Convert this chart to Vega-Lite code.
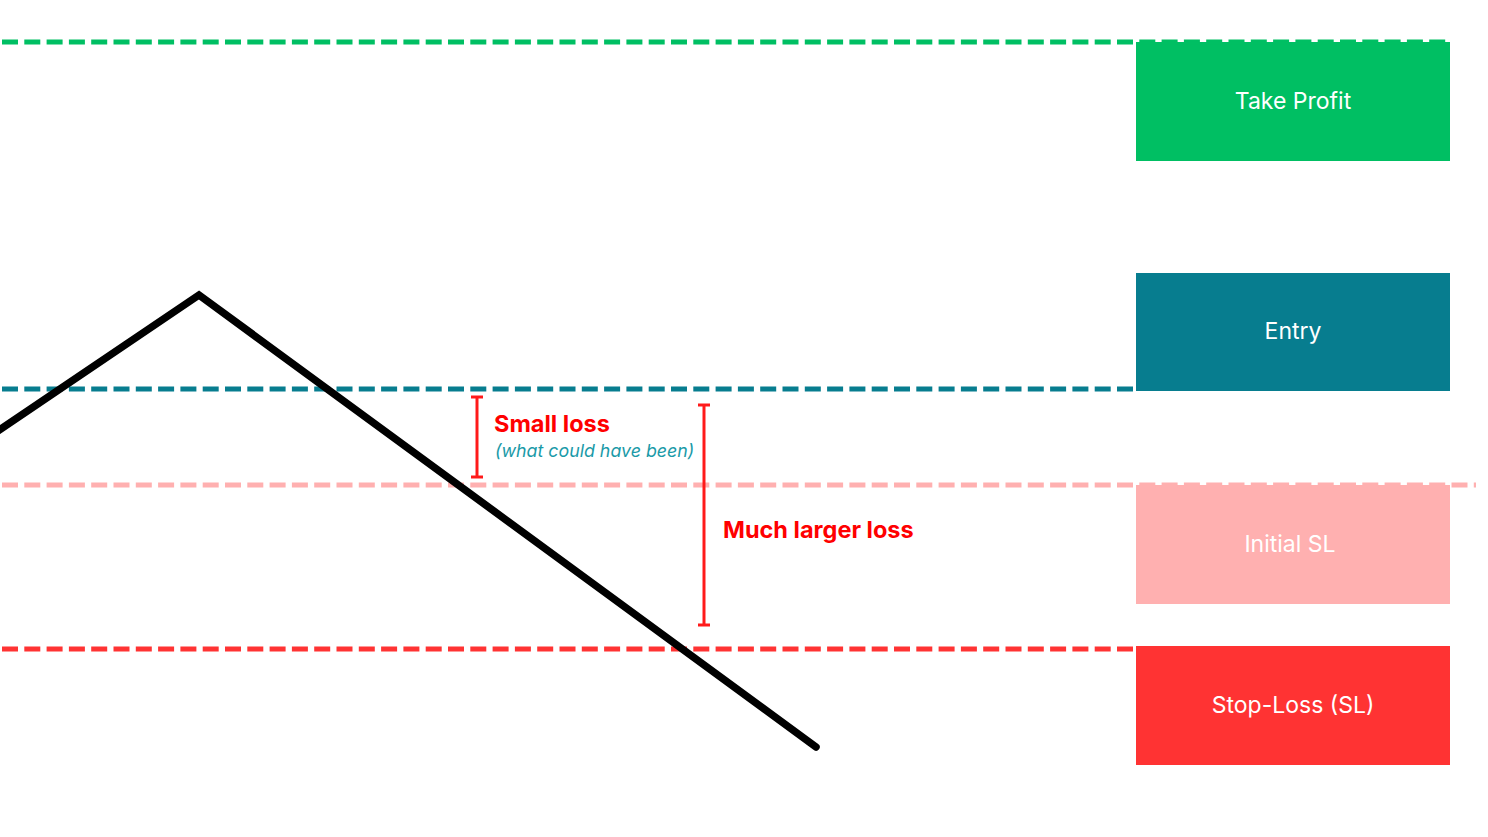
{
  "$schema": "https://vega.github.io/schema/vega-lite/v6.json",
  "width": 1488,
  "height": 837,
  "autosize": {"type": "none"},
  "padding": 0,
  "background": "white",
  "config": {
    "view": {"stroke": null},
    "font": "Inter"
  },
  "datasets": {
    "levels": [
      {"level": "Take Profit", "price": 42, "lineStart": 2, "lineEnd": 1450, "boxLeft": 1136, "boxRight": 1450, "boxMid": 1293, "top": 42, "bottom": 161},
      {"level": "Entry", "price": 389, "lineStart": 2, "lineEnd": 1134, "boxLeft": 1136, "boxRight": 1450, "boxMid": 1293, "top": 273, "bottom": 391},
      {"level": "Initial SL", "price": 485, "lineStart": 2, "lineEnd": 1476, "boxLeft": 1136, "boxRight": 1450, "boxMid": 1290, "top": 485, "bottom": 604},
      {"level": "Stop-Loss (SL)", "price": 649, "lineStart": 2, "lineEnd": 1134, "boxLeft": 1136, "boxRight": 1450, "boxMid": 1293, "top": 646, "bottom": 765}
    ],
    "price": [
      {"t": -2, "p": 431},
      {"t": 199, "p": 295},
      {"t": 816, "p": 747}
    ],
    "losses": [
      {"label": "Small loss", "t": 477, "from": 397, "to": 477, "capL": 471, "capR": 483},
      {"label": "Much larger loss", "t": 704, "from": 405, "to": 625, "capL": 698, "capR": 710}
    ],
    "notes": [
      {"text": "Small loss", "t": 494, "p": 425, "kind": "loss"},
      {"text": "(what could have been)", "t": 495, "p": 452, "kind": "aside"},
      {"text": "Much larger loss", "t": 723, "p": 531, "kind": "loss"}
    ]
  },
  "encoding": {},
  "layer": [
    {
      "data": {"name": "levels"},
      "mark": {"type": "rect"},
      "encoding": {
        "x": {"field": "boxLeft", "type": "quantitative", "scale": {"domain": [0, 1488], "nice": false, "zero": false}, "axis": null},
        "x2": {"field": "boxRight"},
        "y": {"field": "top", "type": "quantitative", "scale": {"domain": [0, 837], "reverse": true, "nice": false, "zero": false}, "axis": null},
        "y2": {"field": "bottom"},
        "color": {
          "field": "level",
          "type": "nominal",
          "scale": {
            "domain": ["Take Profit", "Entry", "Initial SL", "Stop-Loss (SL)"],
            "range": ["#00bf63", "#077d8f", "#ffb0b0", "#ff3333"]
          },
          "legend": null
        }
      }
    },
    {
      "data": {"name": "levels"},
      "mark": {"type": "rule", "strokeWidth": 5, "strokeDash": [16, 6.3]},
      "encoding": {
        "x": {"field": "lineStart", "type": "quantitative"},
        "x2": {"field": "lineEnd"},
        "y": {"field": "price", "type": "quantitative"},
        "color": {"field": "level", "type": "nominal", "legend": null}
      }
    },
    {
      "data": {"name": "levels"},
      "mark": {"type": "text", "color": "white", "fontSize": 23, "baseline": "middle", "align": "center"},
      "transform": [{"calculate": "(datum.top + datum.bottom) / 2", "as": "centre"}],
      "encoding": {
        "x": {"field": "boxMid", "type": "quantitative"},
        "y": {"field": "centre", "type": "quantitative"},
        "text": {"field": "level"}
      }
    },
    {
      "data": {"name": "price"},
      "mark": {"type": "line", "color": "black", "strokeWidth": 7.5, "strokeCap": "round", "strokeJoin": "miter"},
      "encoding": {
        "x": {"field": "t", "type": "quantitative"},
        "y": {"field": "p", "type": "quantitative"},
        "order": {"field": "t"}
      }
    },
    {
      "data": {"name": "losses"},
      "mark": {"type": "rule", "color": "#ff1a1a", "strokeWidth": 3},
      "encoding": {
        "x": {"field": "t", "type": "quantitative"},
        "y": {"field": "from", "type": "quantitative"},
        "y2": {"field": "to"}
      }
    },
    {
      "data": {"name": "losses"},
      "mark": {"type": "rule", "color": "#ff1a1a", "strokeWidth": 3},
      "encoding": {
        "x": {"field": "capL", "type": "quantitative"},
        "x2": {"field": "capR"},
        "y": {"field": "from", "type": "quantitative"}
      }
    },
    {
      "data": {"name": "losses"},
      "mark": {"type": "rule", "color": "#ff1a1a", "strokeWidth": 3},
      "encoding": {
        "x": {"field": "capL", "type": "quantitative"},
        "x2": {"field": "capR"},
        "y": {"field": "to", "type": "quantitative"}
      }
    },
    {
      "data": {"name": "notes"},
      "transform": [{"filter": "datum.kind == 'loss'"}],
      "mark": {"type": "text", "color": "#ff0000", "fontSize": 23.5, "fontWeight": "bold", "align": "left", "baseline": "middle"},
      "encoding": {
        "x": {"field": "t", "type": "quantitative"},
        "y": {"field": "p", "type": "quantitative"},
        "text": {"field": "text"}
      }
    },
    {
      "data": {"name": "notes"},
      "transform": [{"filter": "datum.kind == 'aside'"}],
      "mark": {"type": "text", "color": "#1a9aa8", "fontSize": 17.8, "fontStyle": "italic", "align": "left", "baseline": "middle"},
      "encoding": {
        "x": {"field": "t", "type": "quantitative"},
        "y": {"field": "p", "type": "quantitative"},
        "text": {"field": "text"}
      }
    }
  ]
}
